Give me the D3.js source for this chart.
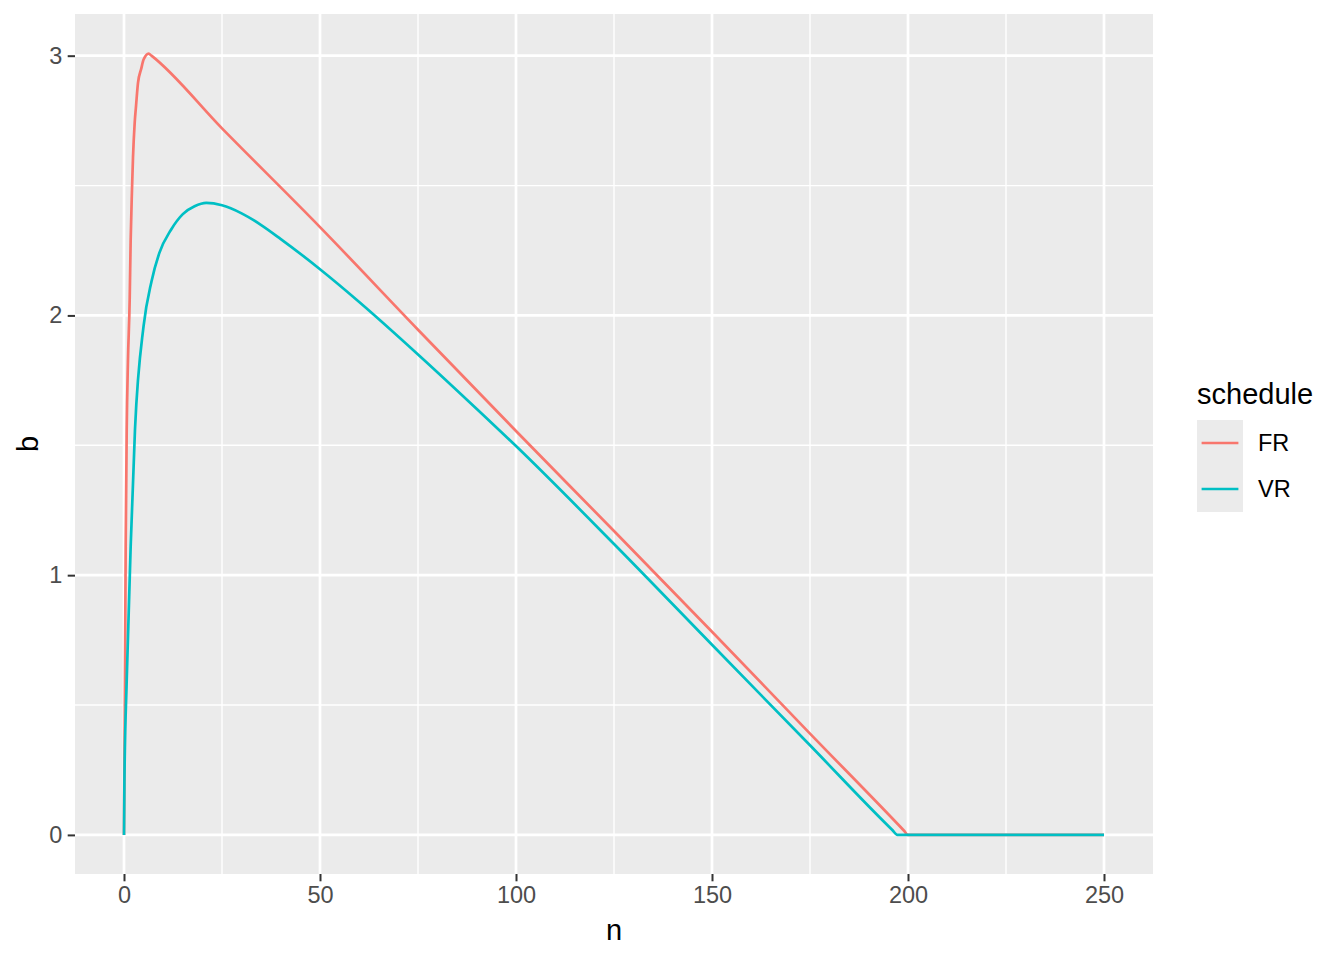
<!DOCTYPE html>
<html>
<head>
<meta charset="utf-8">
<script src="https://cdn.jsdelivr.net/npm/d3@7"></script>
<style>
  body { margin: 0; background: #fff; }
  svg text { font-family: "Liberation Sans", Arial, Helvetica, sans-serif; }
</style>
</head>
<body>
<div id="chart"></div>
<script>
// values
const seriesNames = ["FR", "VR"];
const seriesColors = ["#F8766D", "#00BFC4"];

const nFR = [0, 0.25, 0.43, 0.69, 1.0, 1.45, 1.7, 2.04, 2.3, 2.72, 3.06, 3.57, 4.4, 5, 6.3, 7, 25, 50, 75, 100, 125, 150, 175, 199, 200, 201, 225, 250];
const bFR = [0, 0.6, 1.11, 1.56, 1.82, 2.06, 2.29, 2.485, 2.61, 2.74, 2.805, 2.895, 2.95, 2.985, 3.008, 3.0, 2.72, 2.34, 1.945, 1.555, 1.17, 0.782, 0.39, 0.016, 0, 0, 0, 0];

const nVR = [0, 0.1, 0.7, 1.7, 2.8, 5, 7, 9, 12, 15, 18, 21, 25, 30, 35, 40, 50, 60, 75, 90, 100, 125, 150, 175, 196, 197.3, 198.5, 225, 250];
const bVR = [0, 0.2, 0.6, 1.11, 1.56, 1.96, 2.13, 2.24, 2.33, 2.39, 2.42, 2.433, 2.424, 2.393, 2.348, 2.294, 2.178, 2.052, 1.85, 1.64, 1.497, 1.12, 0.732, 0.345, 0.019, 0, 0, 0, 0];

const xTicks = [0, 50, 100, 150, 200, 250];
const xMinor = [25, 75, 125, 175, 225];
const yTicks = [0, 1, 2, 3];
const yMinor = [0.5, 1.5, 2.5];

const W = 1344, H = 960;
const panel = {left: 75, top: 14, right: 1153, bottom: 874};

let svg = d3.select("#chart")
  .append("svg")
  .attr("width", W)
  .attr("height", H);

let x = d3.scaleLinear().domain([-12.5, 262.5]).range([panel.left, panel.right]);
let y = d3.scaleLinear().domain([-0.1505, 3.1605]).range([panel.bottom, panel.top]);

// panel background
svg.append("rect")
  .attr("x", panel.left)
  .attr("y", panel.top)
  .attr("width", panel.right - panel.left)
  .attr("height", panel.bottom - panel.top)
  .attr("fill", "#EBEBEB");

let grid = svg.append("g").attr("class", "grid");

// minor grid
grid.selectAll("line.xminor").data(xMinor).enter()
  .append("line")
  .attr("x1", d => x(d)).attr("x2", d => x(d))
  .attr("y1", panel.top).attr("y2", panel.bottom)
  .attr("stroke", "#fff").attr("stroke-width", 1.35);
grid.selectAll("line.yminor").data(yMinor).enter()
  .append("line")
  .attr("y1", d => y(d)).attr("y2", d => y(d))
  .attr("x1", panel.left).attr("x2", panel.right)
  .attr("stroke", "#fff").attr("stroke-width", 1.35);

// major grid
grid.selectAll("line.xmajor").data(xTicks).enter()
  .append("line")
  .attr("x1", d => x(d)).attr("x2", d => x(d))
  .attr("y1", panel.top).attr("y2", panel.bottom)
  .attr("stroke", "#fff").attr("stroke-width", 2.7);
grid.selectAll("line.ymajor").data(yTicks).enter()
  .append("line")
  .attr("y1", d => y(d)).attr("y2", d => y(d))
  .attr("x1", panel.left).attr("x2", panel.right)
  .attr("stroke", "#fff").attr("stroke-width", 2.7);

// lines
const series = [
  {name: "FR", n: nFR, b: bFR},
  {name: "VR", n: nVR, b: bVR}
];
let line = d3.line()
  .x(d => x(d[0]))
  .y(d => y(d[1]))
  .curve(d3.curveMonotoneX);

svg.append("g").selectAll("path")
  .data(series)
  .enter()
  .append("path")
  .attr("d", s => line(s.n.map((v, i) => [v, s.b[i]])))
  .attr("fill", "none")
  .attr("stroke", (s, i) => seriesColors[i])
  .attr("stroke-width", 2.7)
  .attr("stroke-linejoin", "round");

// axes
let xAxis = svg.append("g")
  .attr("transform", `translate(0,${panel.bottom})`)
  .call(d3.axisBottom(x).tickValues(xTicks).tickSize(7.3).tickPadding(5.5).tickFormat(d3.format("d")));
let yAxis = svg.append("g")
  .attr("transform", `translate(${panel.left},0)`)
  .call(d3.axisLeft(y).tickValues(yTicks).tickSize(7.3).tickPadding(5.5).tickFormat(d3.format("d")));

[xAxis, yAxis].forEach(a => {
  a.select(".domain").remove();
  a.selectAll(".tick line").attr("stroke", "#333333").attr("stroke-width", 2);
  a.selectAll(".tick text")
    .attr("fill", "#4D4D4D")
    .attr("font-size", "23.5px")
    .attr("font-family", "Liberation Sans, Arial, sans-serif");
});

// axis titles
svg.append("text")
  .attr("x", (panel.left + panel.right) / 2)
  .attr("y", 940)
  .attr("text-anchor", "middle")
  .attr("font-size", "29px")
  .attr("fill", "#000")
  .text("n");

svg.append("text")
  .attr("transform", `translate(38,${(panel.top + panel.bottom) / 2}) rotate(-90)`)
  .attr("text-anchor", "middle")
  .attr("font-size", "29px")
  .attr("fill", "#000")
  .text("b");

// legend
let legend = svg.append("g").attr("transform", "translate(1197,0)");
legend.append("text")
  .attr("x", 0)
  .attr("y", 404)
  .attr("font-size", "29px")
  .attr("fill", "#000")
  .text("schedule");

let keys = legend.selectAll("g.key")
  .data(seriesNames)
  .enter()
  .append("g")
  .attr("transform", (d, i) => `translate(0,${420 + i * 46})`);
keys.append("rect")
  .attr("width", 46)
  .attr("height", 46)
  .attr("fill", "#EBEBEB");
keys.append("line")
  .attr("x1", 4.6).attr("x2", 41.4)
  .attr("y1", 23).attr("y2", 23)
  .attr("stroke", (d, i) => seriesColors[i])
  .attr("stroke-width", 2.7);
keys.append("text")
  .attr("x", 61)
  .attr("y", 23)
  .attr("dy", "0.35em")
  .attr("font-size", "23.5px")
  .attr("fill", "#000")
  .text(d => d);
</script>
</body>
</html>
